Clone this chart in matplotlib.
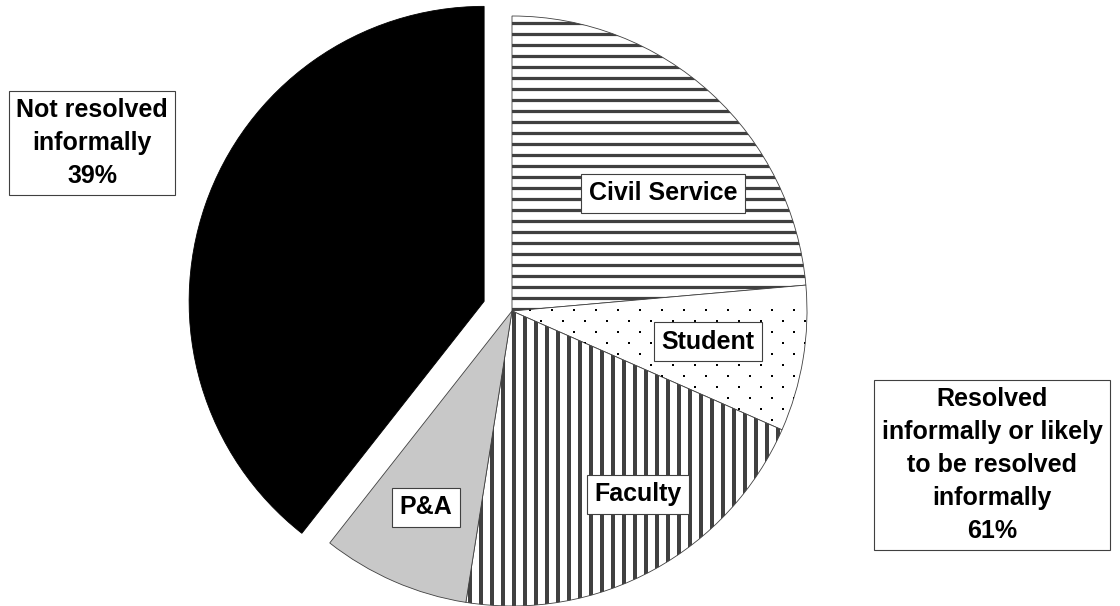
import numpy as np
import matplotlib.pyplot as plt

categories = ["Civil Service", "Student", "Faculty", "P&A", "Not resolved"]
shares = [23.6, 8.0, 20.9, 8.1, 39.4]
resolved_pct = 61
not_resolved_pct = 39

W, H = 1120, 606
cx, cy, R = 512, 311, 295   # pie centre and radius in pixels
dark = "#404040"

fig = plt.figure(figsize=(W / 100, H / 100), dpi=100)
ax = fig.add_axes([0, 0, 1, 1])

wedges, _ = ax.pie(shares, startangle=90, counterclock=False,
                   explode=[0, 0, 0, 0, 0.1],
                   colors=["white", "white", "white", "#c8c8c8", "black"],
                   wedgeprops=dict(edgecolor=dark, linewidth=0.6))
wedges[4].set_edgecolor("black")
ax.set_xlim(-cx / R, (W - cx) / R)
ax.set_ylim(-(H - cy) / R, cy / R)
ax.axis("off")

step = 11 / R

# horizontal stripes for civil service
ys = np.arange((cy - 23) / R, -1.05, -step)
hl = ax.hlines(ys, -1.05, 1.05, colors=dark, linewidth=3.2 * 0.72)
hl.set_clip_path(wedges[0])

# dots for student
rows = np.arange((cy - 310) / R, -1.05, -step)
dx, dy = [], []
for i, y in enumerate(rows):
    x0 = (530 - cx) / R + (step if i % 2 else 0)
    xs = np.arange(x0, 1.05, 2 * step)
    dx.extend(xs)
    dy.extend([y] * len(xs))
dots = ax.scatter(dx, dy, marker="s", s=4.5, c="black", linewidths=0)
dots.set_clip_path(wedges[1])

# vertical stripes for faculty
xs = np.arange((514 - cx) / R - 100 * step, 1.05, step)
vl = ax.vlines(xs, -1.05, 0.2, colors=dark, linewidth=4 * 0.72)
vl.set_clip_path(wedges[2])


def label(x, y, s):
    fig.text(x / W, 1 - y / H, s, ha="center", va="center", fontsize=18,
             fontweight="bold", family="Liberation Sans", linespacing=1.47,
             bbox=dict(boxstyle="square,pad=0.3", fc="white", ec=dark, lw=0.8))


label(663, 193, categories[0])
label(708, 342, categories[1])
label(638, 494, categories[2])
label(426, 507, categories[3])
label(92, 143, "Not resolved\ninformally\n%d%%" % not_resolved_pct)
label(992, 465, "Resolved\ninformally or likely\nto be resolved\ninformally\n%d%%" % resolved_pct)

fig.savefig("out.png", dpi=100, facecolor="white")
